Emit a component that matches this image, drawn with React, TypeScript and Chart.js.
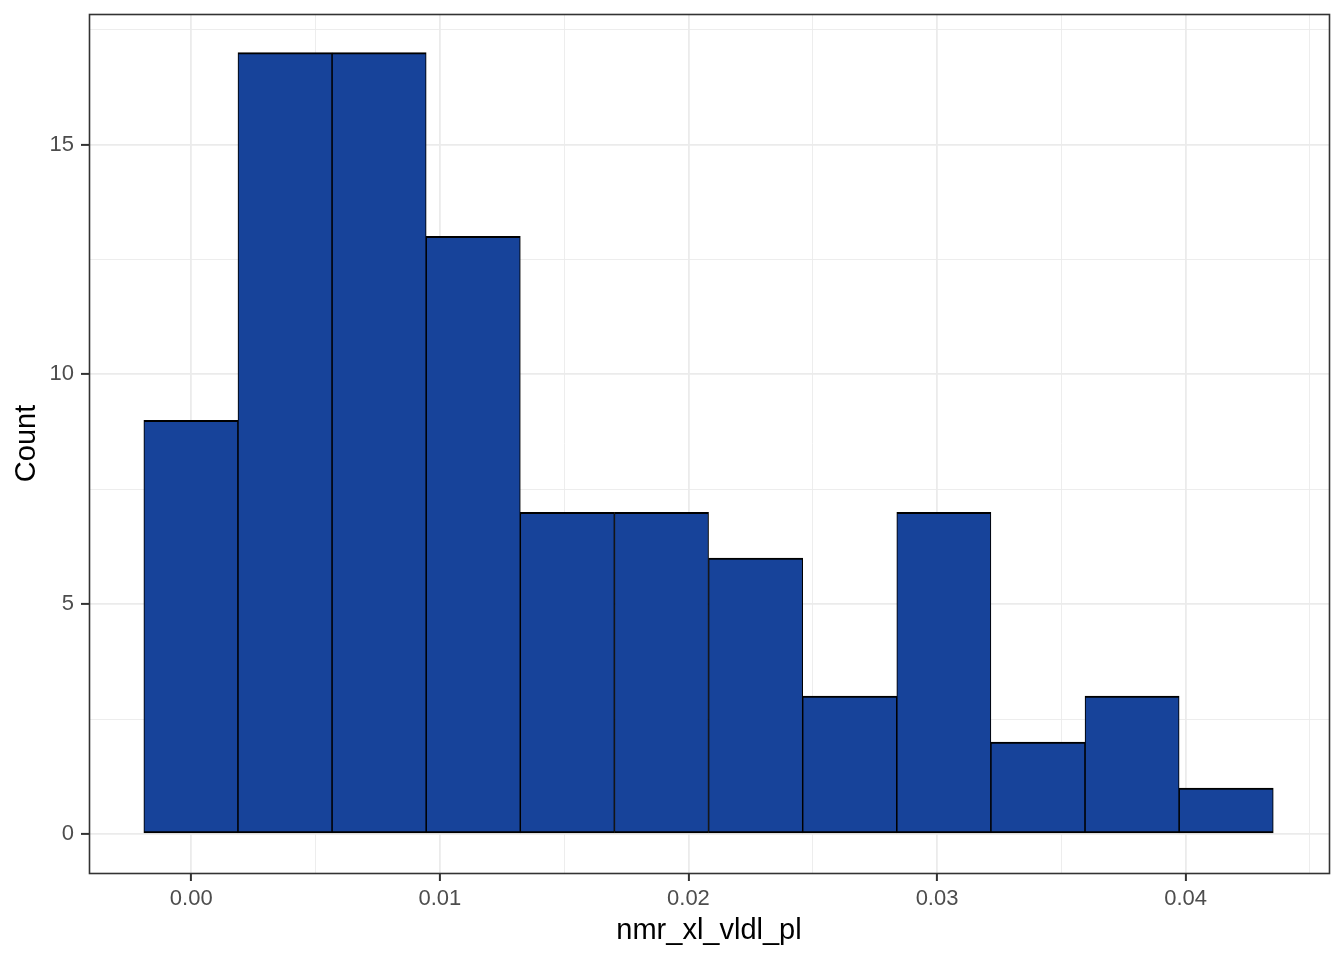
import React, { useEffect, useRef } from "react";
import { Chart, registerables } from "chart.js";

Chart.register(...registerables);

// Histogram bin edges (x) and counts
const binEdges = [
  -0.001907, 0.001879, 0.005665, 0.009451, 0.013237, 0.017023, 0.020809,
  0.024595, 0.028381, 0.032167, 0.035953, 0.039739, 0.043525,
];
const counts = [9, 17, 17, 13, 7, 7, 6, 3, 7, 2, 3, 1];

const xTickValues = [0, 0.005, 0.01, 0.015, 0.02, 0.025, 0.03, 0.035, 0.04, 0.045];
const xMajorTicks = [0, 0.01, 0.02, 0.03, 0.04];
const yTickValues = [0, 2.5, 5, 7.5, 10, 12.5, 15, 17.5];
const yMajorTicks = [0, 5, 10, 15];

const xTitle = "nmr_xl_vldl_pl";
const yTitle = "Count";

const FONT = "'Liberation Sans', Arial, Helvetica, sans-serif";
const isIn = (arr: number[], v: number) => arr.some((a) => Math.abs(a - v) < 1e-9);

export default function App() {
  const ref = useRef<HTMLCanvasElement | null>(null);

  useEffect(() => {
    if (!ref.current) return;
    const data = counts.map((c, i) => ({ x: (binEdges[i] + binEdges[i + 1]) / 2, y: c }));

    const panelBorder = {
      id: "panelBorder",
      afterDraw(chart: any) {
        const { ctx, chartArea } = chart;
        ctx.save();
        ctx.strokeStyle = "#333333";
        ctx.lineWidth = 1.6;
        ctx.strokeRect(chartArea.left + 0.5, chartArea.top + 0.5, chartArea.right - chartArea.left, chartArea.bottom - chartArea.top);
        ctx.restore();
      },
    };

    const chart = new Chart(ref.current, {
      type: "bar",
      data: {
        datasets: [
          {
            data,
            backgroundColor: "#17439A",
            borderColor: "#000000",
            borderWidth: { top: 2, bottom: 2, left: 1.1, right: 1.1 },
            borderSkipped: false,
            barPercentage: 1,
            categoryPercentage: 1,
          } as any,
        ],
      },
      options: {
        animation: false,
        responsive: false,
        devicePixelRatio: 1,
        layout: { padding: { top: 14, right: 15, bottom: 0, left: 0 } },
        plugins: { legend: { display: false }, tooltip: { enabled: false } },
        scales: {
          x: {
            type: "linear",
            min: -0.004113,
            max: 0.045767,
            offset: false,
            afterBuildTicks: (scale: any) => {
              scale.ticks = xTickValues.map((v) => ({ value: v }));
            },
            afterFit: (scale: any) => {
              scale.height = 87;
              scale.paddingLeft = 0;
              scale.paddingRight = 0;
            },
            grid: {
              offset: false,
              color: "#EBEBEB",
              lineWidth: (ctx: any) => (isIn(xMajorTicks, ctx.tick?.value) ? 1.8 : 0.9),
              tickColor: (ctx: any) => (isIn(xMajorTicks, ctx.tick?.value) ? "#333333" : "rgba(0,0,0,0)"),
              tickWidth: 2,
              tickLength: 8,
              drawTicks: true,
            },
            border: { display: false },
            ticks: {
              autoSkip: false,
              maxRotation: 0,
              padding: 5,
              color: "#4D4D4D",
              font: { family: FONT, size: 22 },
              callback: (v: any) => (isIn(xMajorTicks, Number(v)) ? Number(v).toFixed(2) : ""),
            },
            title: {
              display: true,
              text: xTitle,
              color: "#000000",
              font: { family: FONT, size: 29 },
              padding: { top: 0, bottom: 12 },
            },
          },
          y: {
            type: "linear",
            min: -0.85,
            max: 17.84,
            afterBuildTicks: (scale: any) => {
              scale.ticks = yTickValues.map((v) => ({ value: v }));
            },
            afterFit: (scale: any) => {
              scale.width = 89;
              scale.paddingTop = 0;
              scale.paddingBottom = 0;
            },
            grid: {
              color: "#EBEBEB",
              lineWidth: (ctx: any) => (isIn(yMajorTicks, ctx.tick?.value) ? 1.8 : 0.9),
              tickColor: (ctx: any) => (isIn(yMajorTicks, ctx.tick?.value) ? "#333333" : "rgba(0,0,0,0)"),
              tickWidth: 2,
              tickLength: 8,
            },
            border: { display: false },
            ticks: {
              autoSkip: false,
              padding: 7,
              color: "#4D4D4D",
              font: { family: FONT, size: 22 },
              callback: (v: any) => (isIn(yMajorTicks, Number(v)) ? String(Number(v)) : ""),
            },
            title: {
              display: true,
              text: yTitle,
              color: "#000000",
              font: { family: FONT, size: 29 },
              padding: { top: 10, bottom: 0 },
            },
          },
        },
      },
      plugins: [panelBorder],
    } as any);

    return () => chart.destroy();
  }, []);

  return (
    <div style={{ position: "absolute", left: 0, top: 0, width: 1344, height: 960, background: "#ffffff" }}>
      <canvas ref={ref} width={1344} height={960} style={{ display: "block" }} />
    </div>
  );
}
